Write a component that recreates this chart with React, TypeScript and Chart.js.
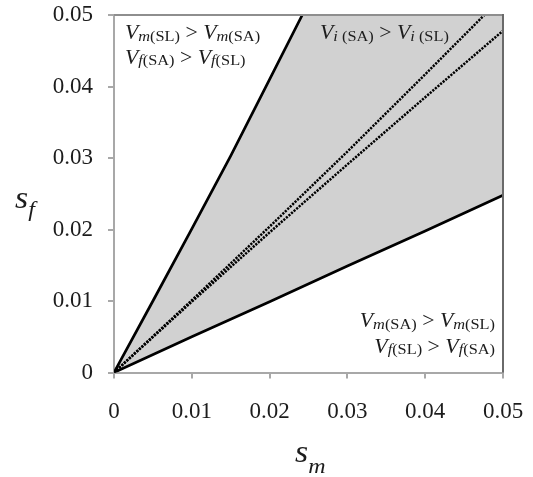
import React, { useEffect, useRef } from "react";
import { Chart, registerables } from "chart.js";

Chart.register(...registerables);

// ---- data ----
const xTicks = [0, 0.01, 0.02, 0.03, 0.04, 0.05];
const xTickLabels = ["0", "0.01", "0.02", "0.03", "0.04", "0.05"];
const yTicks = [0, 0.01, 0.02, 0.03, 0.04, 0.05];
const yTickLabels = ["0", "0.01", "0.02", "0.03", "0.04", "0.05"];

// upper solid boundary
const upperSm = [0, 0.005, 0.01, 0.015, 0.02, 0.0242];
const upperSf = [0, 0.01, 0.0201, 0.0303, 0.041, 0.05];
// lower solid boundary
const lowerSm = [0, 0.01, 0.02, 0.03, 0.04, 0.05];
const lowerSf = [0, 0.005, 0.0099, 0.0149, 0.0198, 0.0248];
// dotted lines
const dotUpperSm = [0, 0.01, 0.02, 0.03, 0.04, 0.0476];
const dotUpperSf = [0, 0.0101, 0.0204, 0.0309, 0.0417, 0.05];
const dotLowerSm = [0, 0.01, 0.02, 0.03, 0.04, 0.05];
const dotLowerSf = [0, 0.0099, 0.0196, 0.0291, 0.0385, 0.0478];
// top-right corner of shaded region
const cornerSm = [0.05];
const cornerSf = [0.05];

type Part = [string, string];

const labelTopLeft1: Part[] = [["V", "I"], ["m", "i"], ["(SL)", "s"], [" > ", "n"], ["V", "I"], ["m", "i"], ["(SA)", "s"]];
const labelTopLeft2: Part[] = [["V", "I"], ["f", "i"], ["(SA)", "s"], [" > ", "n"], ["V", "I"], ["f", "i"], ["(SL)", "s"]];
const labelTopRight: Part[] = [["V", "I"], ["i", "i"], [" (SA)", "s"], [" > ", "n"], ["V", "I"], ["i", "i"], [" (SL)", "s"]];
const labelBottomRight1: Part[] = [["V", "I"], ["m", "i"], ["(SA)", "s"], [" > ", "n"], ["V", "I"], ["m", "i"], ["(SL)", "s"]];
const labelBottomRight2: Part[] = [["V", "I"], ["f", "i"], ["(SL)", "s"], [" > ", "n"], ["V", "I"], ["f", "i"], ["(SA)", "s"]];

const regionLabels = [
  { sm: 0.0014, sf: 0.0466, align: "left", parts: labelTopLeft1 },
  { sm: 0.0014, sf: 0.04315, align: "left", parts: labelTopLeft2 },
  { sm: 0.02648, sf: 0.0466, align: "left", parts: labelTopRight },
  { sm: 0.04897, sf: 0.00636, align: "right", parts: labelBottomRight1 },
  { sm: 0.04897, sf: 0.00273, align: "right", parts: labelBottomRight2 },
];

const xTitle: Part[] = [["s", "T"], ["m", "t"]];
const yTitle: Part[] = [["s", "T"], ["f", "u"]];

const SERIF = "'Liberation Serif', 'Times New Roman', serif";
const STRETCH = 1.09;
const TEXT = "#1c1c1c";

const styles: Record<string, { italic: boolean; size: number; dy: number }> = {
  I: { italic: true, size: 20, dy: 0 },
  i: { italic: true, size: 15, dy: 1.5 },
  s: { italic: false, size: 15, dy: 1.5 },
  n: { italic: false, size: 20, dy: 0 },
  T: { italic: true, size: 31, dy: 0 },
  t: { italic: true, size: 22, dy: 11 },
  u: { italic: true, size: 22, dy: 8 },
};

function fontOf(k: string) {
  const st = styles[k];
  return `${st.italic ? "italic " : ""}${st.size}px ${SERIF}`;
}

function measureParts(ctx: CanvasRenderingContext2D, parts: Part[]) {
  let w = 0;
  for (const [t, k] of parts) {
    ctx.font = fontOf(k);
    w += ctx.measureText(t).width;
  }
  return w;
}

function drawParts(ctx: CanvasRenderingContext2D, x: number, y: number, parts: Part[], align: string) {
  ctx.save();
  const w = measureParts(ctx, parts) * STRETCH;
  const x0 = align === "right" ? x - w : x;
  ctx.translate(x0, y);
  ctx.scale(STRETCH, 1);
  ctx.textBaseline = "alphabetic";
  ctx.textAlign = "left";
  ctx.fillStyle = TEXT;
  let cx = 0;
  for (const [t, k] of parts) {
    ctx.font = fontOf(k);
    ctx.fillText(t, cx, styles[k].dy);
    cx += ctx.measureText(t).width;
  }
  ctx.restore();
}

const pts = (xs: number[], ys: number[]) => xs.map((x, i) => ({ x, y: ys[i] }));

const annotationPlugin = {
  id: "annotations",
  afterDraw(chart: any) {
    const { ctx, chartArea, scales } = chart;
    const xs = scales.x;
    const ys = scales.y;
    // top & right frame
    ctx.save();
    ctx.lineWidth = 2;
    ctx.strokeStyle = "#8e8e8e";
    ctx.beginPath();
    ctx.moveTo(chartArea.left, chartArea.top);
    ctx.lineTo(chartArea.right, chartArea.top);
    ctx.stroke();
    ctx.strokeStyle = "#6a6a6a";
    ctx.beginPath();
    ctx.moveTo(chartArea.right, chartArea.top - 1);
    ctx.lineTo(chartArea.right, chartArea.bottom);
    ctx.stroke();
    ctx.restore();

    for (const lb of regionLabels) {
      drawParts(ctx, xs.getPixelForValue(lb.sm), ys.getPixelForValue(lb.sf), lb.parts, lb.align);
    }
    const cx = (chartArea.left + chartArea.right) / 2;
    drawParts(ctx, cx - 13.5, chartArea.bottom + 89.5, xTitle, "left");
    const cy = (chartArea.top + chartArea.bottom) / 2;
    drawParts(ctx, chartArea.left - 99, cy + 14, yTitle, "left");
  },
};

export default function App() {
  const ref = useRef<HTMLCanvasElement | null>(null);
  useEffect(() => {
    if (!ref.current) return;
    const axisColor = "#a8a8a8";
    const tickFont = { family: SERIF, size: 23 };
    const chart = new Chart(ref.current, {
      type: "line",
      data: {
        datasets: [
          {
            data: pts(lowerSm, lowerSf),
            borderColor: "#000",
            borderWidth: 2.7,
            pointRadius: 0,
            fill: false,
          },
          {
            data: pts(upperSm, upperSf),
            borderColor: "#000",
            borderWidth: 2.7,
            pointRadius: 0,
            fill: false,
          },
          {
            data: pts(dotUpperSm, dotUpperSf),
            borderColor: "#000",
            borderWidth: 2.5,
            borderDash: [2.2, 1.2],
            pointRadius: 0,
            fill: false,
          },
          {
            data: pts(dotLowerSm, dotLowerSf),
            borderColor: "#000",
            borderWidth: 2.5,
            borderDash: [2.2, 1.2],
            pointRadius: 0,
            fill: false,
          },
          {
            data: pts(upperSm.concat(cornerSm), upperSf.concat(cornerSf)),
            borderColor: "rgba(0,0,0,0)",
            borderWidth: 0,
            backgroundColor: "#d1d1d1",
            pointRadius: 0,
            fill: 0,
          },
        ],
      },
      options: {
        responsive: false,
        animation: false,
        devicePixelRatio: 1,
        layout: { padding: { left: 0, right: 30, top: 15, bottom: 0 } },
        plugins: {
          legend: { display: false },
          tooltip: { enabled: false },
          filler: { drawTime: "beforeDatasetsDraw" },
        },
        events: [],
        scales: {
          x: {
            type: "linear",
            min: 0,
            max: 0.05,
            afterBuildTicks: (scale: any) => {
              scale.ticks = xTicks.map((v) => ({ value: v }));
            },
            afterFit: (scale: any) => {
              scale.height = 104.5;
              scale.paddingLeft = 0;
              scale.paddingRight = 0;
            },
            ticks: {
              autoSkip: false,
              maxRotation: 0,
              padding: 20,
              color: TEXT,
              font: tickFont,
              callback: (_v: any, i: number) => xTickLabels[i],
            },
            grid: {
              drawOnChartArea: false,
              drawTicks: true,
              tickLength: 6,
              color: axisColor,
              lineWidth: 2,
            },
            border: { display: true, color: axisColor, width: 2 },
          },
          y: {
            type: "linear",
            min: 0,
            max: 0.05,
            afterBuildTicks: (scale: any) => {
              scale.ticks = yTicks.map((v) => ({ value: v }));
            },
            afterFit: (scale: any) => {
              scale.width = 114;
              scale.paddingTop = 0;
              scale.paddingBottom = 0;
            },
            ticks: {
              autoSkip: false,
              padding: 15,
              color: TEXT,
              font: tickFont,
              callback: (_v: any, i: number) => yTickLabels[i],
            },
            grid: {
              drawOnChartArea: false,
              drawTicks: true,
              tickLength: 6,
              color: axisColor,
              lineWidth: 2,
            },
            border: { display: true, color: axisColor, width: 2 },
          },
        },
      } as any,
      plugins: [annotationPlugin],
    });
    return () => chart.destroy();
  }, []);
  return (
    <div style={{ position: "fixed", left: 0, top: 0, width: 533, height: 477, background: "#fff" }}>
      <canvas ref={ref} width={533} height={477} style={{ width: 533, height: 477, display: "block" }} />
    </div>
  );
}
